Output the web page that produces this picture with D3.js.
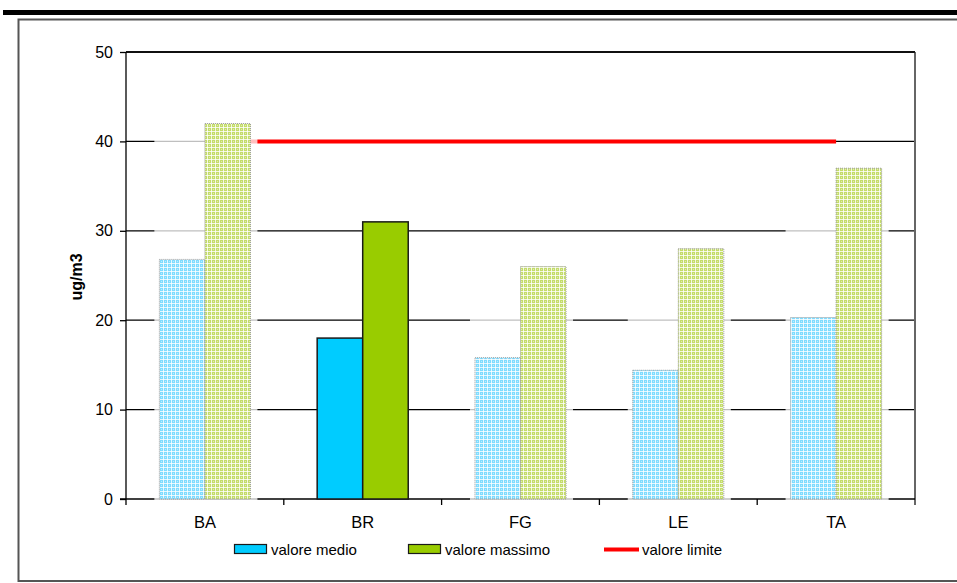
<!DOCTYPE html>
<html>
<head>
<meta charset="utf-8">
<script src="https://cdn.jsdelivr.net/npm/d3@7"></script>
<style>
  html, body { margin: 0; padding: 0; background: #fff; }
  svg { display: block; font-family: "Liberation Sans", Arial, sans-serif; }
</style>
</head>
<body>
<svg id="chart" width="957" height="583"></svg>
<script>
// Stations and NO2 concentrations (ug/m3)
const stations = ["BA", "BR", "FG", "LE", "TA"];
const valoreMedio = [26.8, 18.0, 15.8, 14.4, 20.3];
const valoreMassimo = [42.0, 31.0, 26.0, 28.0, 37.0];
const valoreLimite = 40;
const yTicks = [0, 10, 20, 30, 40, 50];
const seriesNames = ["valore medio", "valore massimo", "valore limite"];
// Station drawn with full colours; the others use the light hatched fill
const solidStations = ["BR"];

const svg = d3.select("#chart");
const plot = { left: 126, right: 915, top: 52, bottom: 499 };

const x = d3.scaleBand().domain(stations)
  .range([plot.left, plot.right])
  .paddingInner(0.423).paddingOuter(0.2115);
const xs = d3.scaleBand().domain(["medio", "massimo"]).range([0, x.bandwidth()]);
const y = d3.scaleLinear().domain([0, 50]).range([plot.bottom, plot.top]);

const colors = { medio: "#00ccff", massimo: "#99cc00", limite: "#ff0000" };

// Hatch patterns for the light bars
const defs = svg.append("defs");
function hatch(id, base) {
  const p = defs.append("pattern").attr("id", id)
    .attr("patternUnits", "userSpaceOnUse").attr("width", 4).attr("height", 4);
  p.append("rect").attr("width", 4).attr("height", 4).attr("fill", base);
  p.append("rect").attr("x", 0).attr("y", 3).attr("width", 4).attr("height", 1).attr("fill", "#ffffff").attr("opacity", 0.8);
  p.append("rect").attr("x", 3).attr("y", 0).attr("width", 1).attr("height", 4).attr("fill", "#ffffff").attr("opacity", 0.8);
  p.append("rect").attr("x", 1).attr("y", 1).attr("width", 1).attr("height", 1).attr("fill", "#ffffff").attr("opacity", 0.45);
}
hatch("hatch-medio", "#7fdcff");
hatch("hatch-massimo", "#c4dc6a");

// Page header rule and frame
svg.append("rect").attr("x", 3).attr("y", 10).attr("width", 954).attr("height", 5).attr("fill", "#000");
svg.append("rect").attr("x", 18.5).attr("y", 19.5).attr("width", 950).attr("height", 561.5)
  .attr("fill", "none").attr("stroke", "#555").attr("stroke-width", 2);

// Gridlines
svg.append("g").selectAll("line").data(yTicks.filter(d => d > 0)).join("line")
  .attr("x1", plot.left).attr("x2", plot.right)
  .attr("y1", d => y(d)).attr("y2", d => y(d))
  .attr("stroke", "#000").attr("stroke-width", 1.3);

// Plot right border
svg.append("line").attr("x1", plot.right).attr("x2", plot.right)
  .attr("y1", plot.top).attr("y2", plot.bottom + 6)
  .attr("stroke", "#666").attr("stroke-width", 2);

// Bottom axis line
svg.append("line").attr("x1", plot.left - 6).attr("x2", plot.right)
  .attr("y1", plot.bottom).attr("y2", plot.bottom)
  .attr("stroke", "#000").attr("stroke-width", 1.3);

// Limit line, from the first to the last station
svg.append("path")
  .datum(stations)
  .attr("d", d3.line().x(s => x(s) + x.bandwidth() / 2).y(() => y(valoreLimite)))
  .attr("stroke", colors.limite).attr("stroke-width", 4).attr("fill", "none");

// Light wash behind hatched station groups
const rows = stations.map((s, i) => ({ s, medio: valoreMedio[i], massimo: valoreMassimo[i], solid: solidStations.includes(s) }));
svg.append("g").selectAll("rect").data(rows.filter(r => !r.solid)).join("rect")
  .attr("x", r => x(r.s) - 5)
  .attr("y", r => y(Math.max(r.medio, r.massimo)))
  .attr("width", x.bandwidth() + 12)
  .attr("height", r => plot.bottom + 1 - y(Math.max(r.medio, r.massimo)))
  .attr("fill", "#fff").attr("opacity", 0.75);

// Bars
const barG = svg.append("g");
rows.forEach(r => {
  ["medio", "massimo"].forEach(k => {
    const rect = barG.append("rect")
      .attr("x", x(r.s) + xs(k))
      .attr("y", y(r[k]))
      .attr("width", xs.bandwidth())
      .attr("height", plot.bottom - y(r[k]));
    if (r.solid) {
      rect.attr("fill", colors[k]).attr("stroke", "#1a1a1a").attr("stroke-width", 1.5);
    } else {
      rect.attr("fill", `url(#hatch-${k})`).attr("stroke", "#999")
        .attr("stroke-width", 1).attr("stroke-dasharray", "1,1");
    }
  });
});

// Y axis
const yAxis = svg.append("g").attr("transform", `translate(${plot.left},0)`)
  .call(d3.axisLeft(y).tickValues(yTicks).tickSize(6).tickPadding(7));
yAxis.select(".domain").attr("stroke", "#000").attr("stroke-width", 1.3)
  .attr("d", `M0,${plot.top}V${plot.bottom + 6}`);
yAxis.selectAll(".tick line").attr("stroke", "#000").attr("stroke-width", 1.3);
yAxis.selectAll(".tick text").attr("font-size", 16).attr("fill", "#000")
  .attr("font-family", "Liberation Sans, Arial, sans-serif");

// Top border of the plot
svg.append("line").attr("x1", plot.left).attr("x2", plot.right)
  .attr("y1", plot.top).attr("y2", plot.top)
  .attr("stroke", "#000").attr("stroke-width", 1.5);

// X axis: category labels and separating ticks
const xAxisG = svg.append("g");
const boundaries = stations.slice(1).map(s => x(s) - x.step() * x.paddingInner() / 2);
xAxisG.selectAll("line").data(boundaries).join("line")
  .attr("x1", d => d).attr("x2", d => d)
  .attr("y1", plot.bottom).attr("y2", plot.bottom + 6)
  .attr("stroke", "#000").attr("stroke-width", 1.3);
xAxisG.selectAll("text").data(stations).join("text")
  .attr("x", s => x(s) + x.bandwidth() / 2)
  .attr("y", plot.bottom + 29)
  .attr("text-anchor", "middle").attr("font-size", 16.5).attr("fill", "#000")
  .text(s => s);

// Y axis title
svg.append("text")
  .attr("transform", "translate(82,277) rotate(-90)")
  .attr("text-anchor", "middle").attr("font-size", 16).attr("font-weight", "bold")
  .text("ug/m3");

// Legend
const legend = svg.append("g").attr("font-size", 15);
const legendItems = [
  { name: seriesNames[0], type: "box", color: colors.medio, x: 234 },
  { name: seriesNames[1], type: "box", color: colors.massimo, x: 408 },
  { name: seriesNames[2], type: "line", color: colors.limite, x: 604 }
];
legendItems.forEach(it => {
  if (it.type === "box") {
    legend.append("rect").attr("x", it.x + 0.5).attr("y", 544.5).attr("width", 32).attr("height", 9)
      .attr("fill", it.color).attr("stroke", "#1a1a1a").attr("stroke-width", 1.2);
  } else {
    legend.append("line").attr("x1", it.x).attr("x2", it.x + 35).attr("y1", 549.5).attr("y2", 549.5)
      .attr("stroke", it.color).attr("stroke-width", 4);
  }
  legend.append("text").attr("x", it.x + (it.type === "box" ? 37 : 38)).attr("y", 555)
    .attr("fill", "#000").text(it.name);
});
</script>
</body>
</html>
